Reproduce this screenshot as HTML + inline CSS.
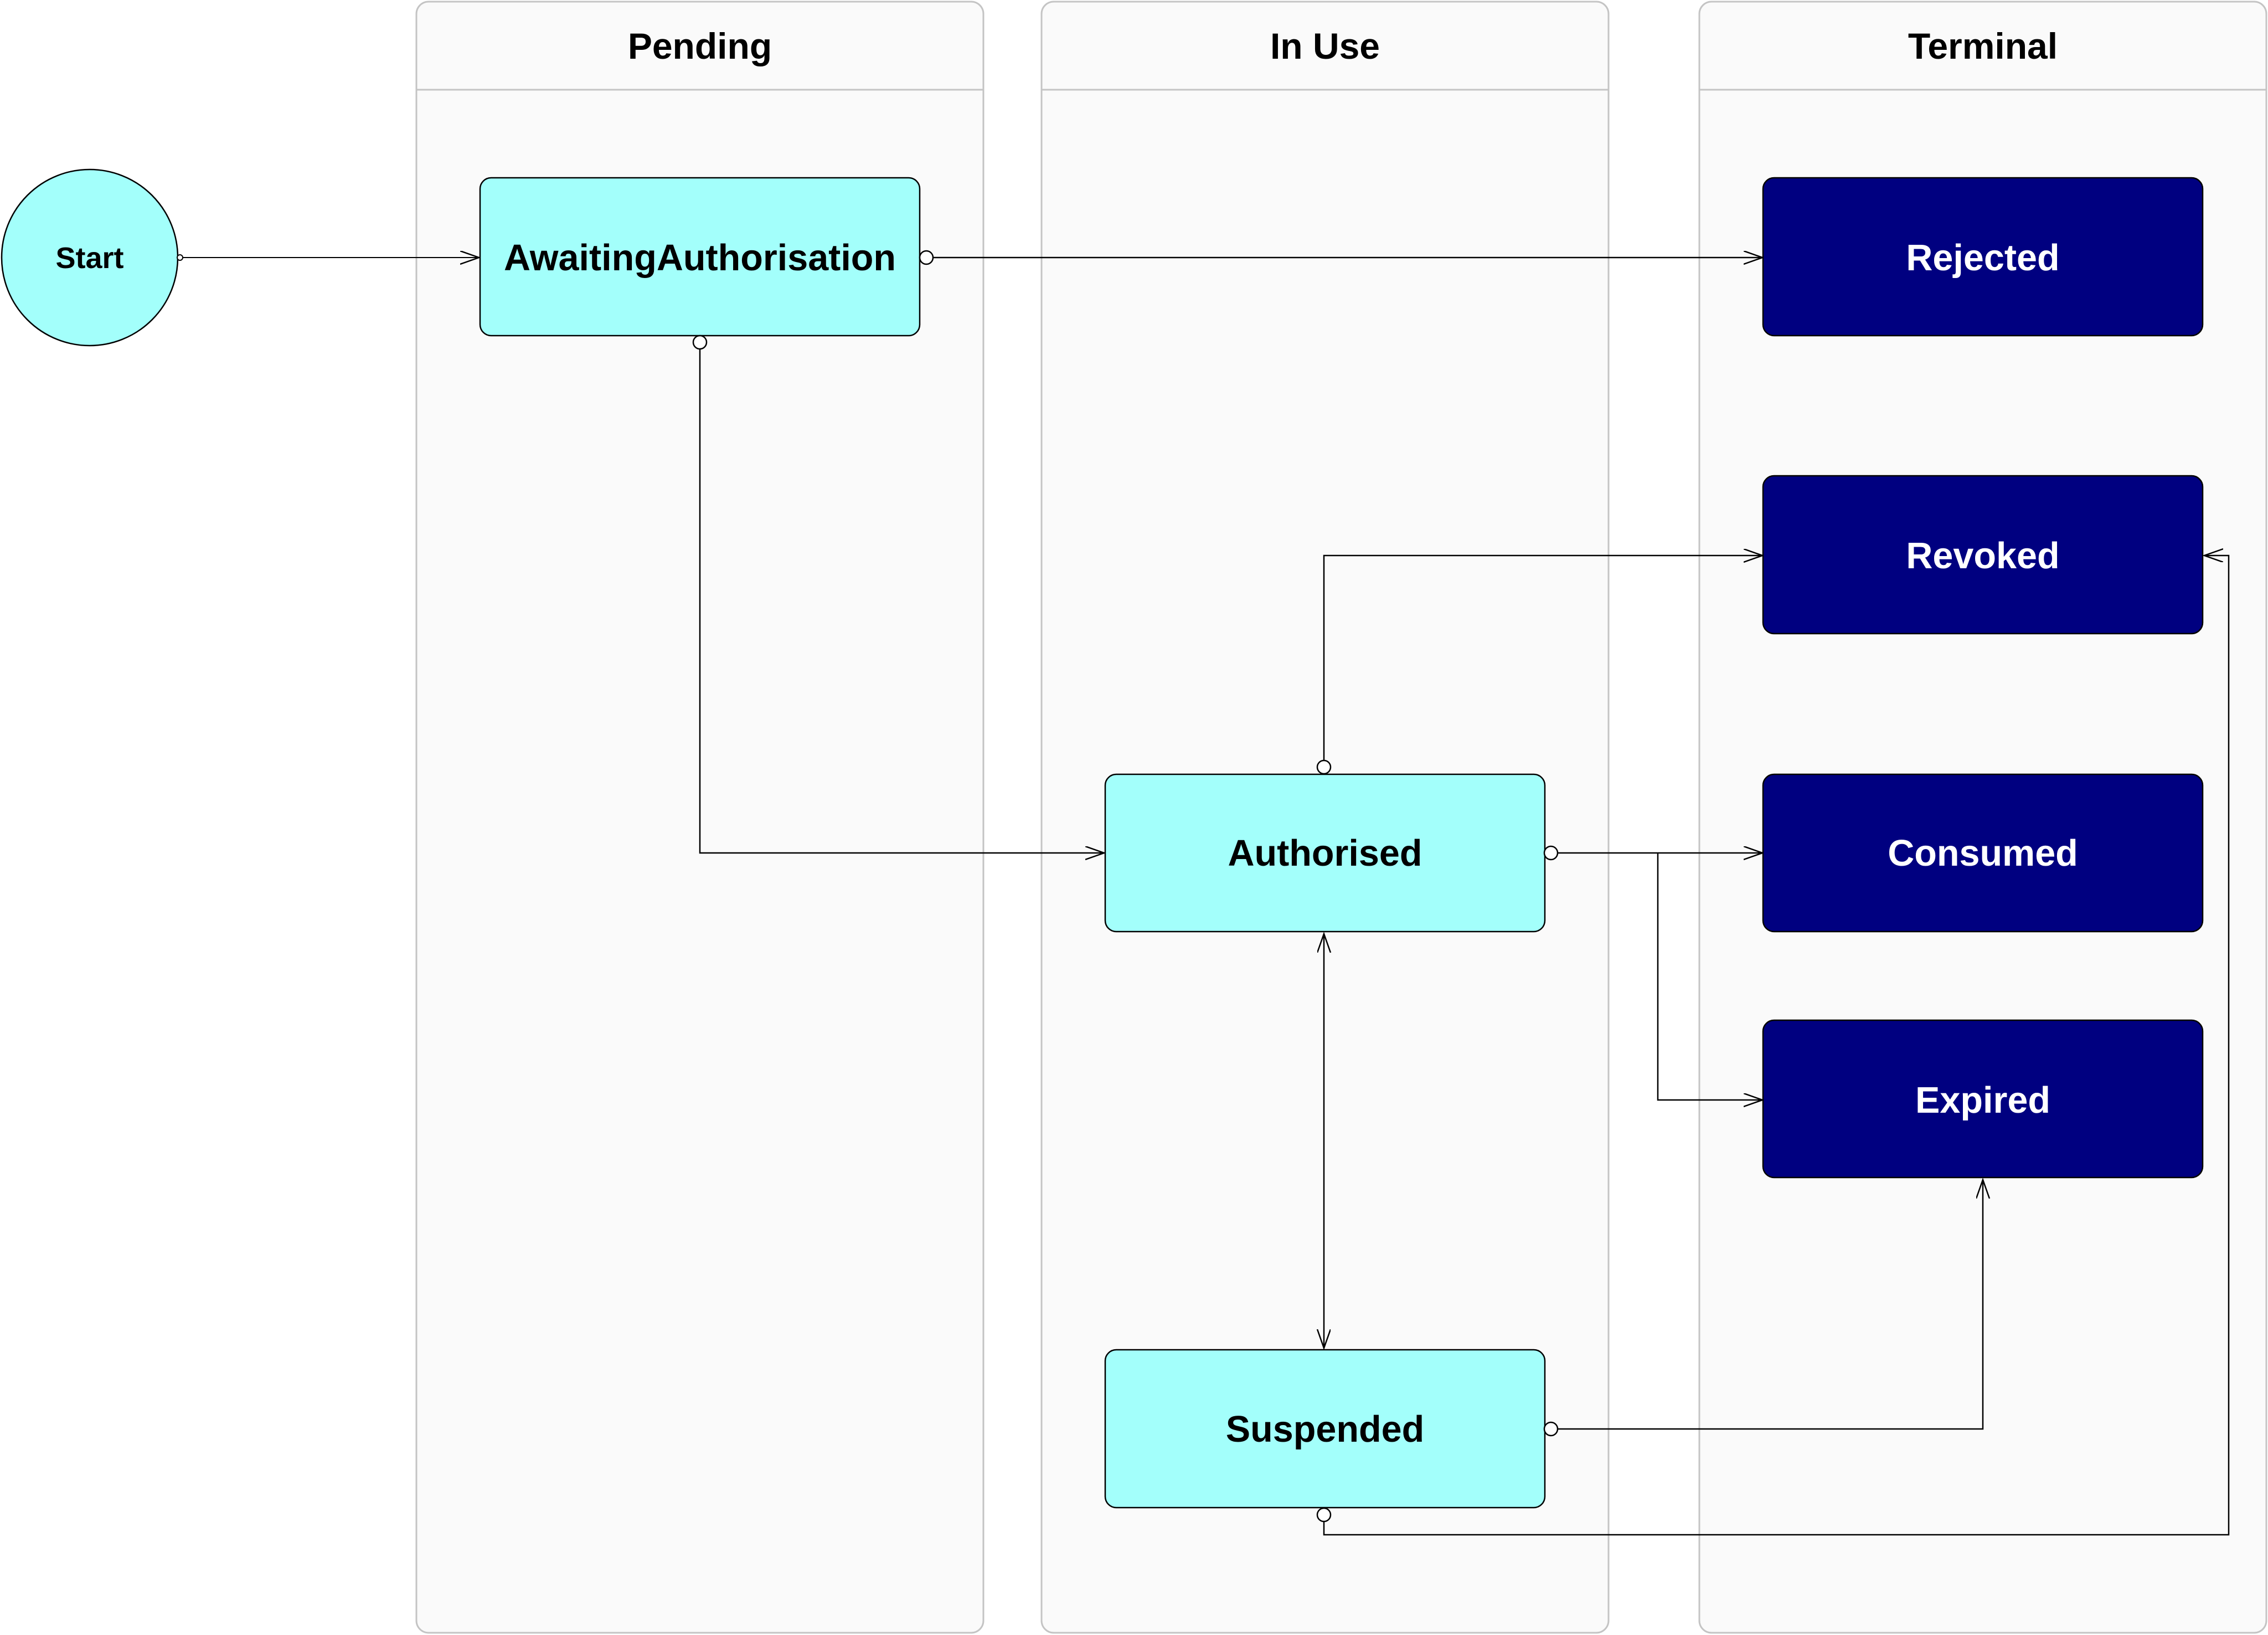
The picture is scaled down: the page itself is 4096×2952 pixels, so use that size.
<!DOCTYPE html>
<html><head><meta charset="utf-8"><style>
html,body{margin:0;padding:0;background:#fff;}
svg{display:block;}
text{font-family:"Liberation Sans",Arial,sans-serif;font-weight:bold;}
</style></head><body>
<svg width="4096" height="2952" viewBox="0 0 4096 2952" xmlns="http://www.w3.org/2000/svg">
<defs>
<marker id="ar" markerWidth="40" markerHeight="30" refX="34" refY="12" orient="auto" markerUnits="userSpaceOnUse">
<path d="M0,0 L34,12 L0,24" fill="none" stroke="#000" stroke-width="2.5"/>
</marker>
<marker id="ars" markerWidth="40" markerHeight="30" refX="34" refY="12" orient="auto-start-reverse" markerUnits="userSpaceOnUse">
<path d="M0,0 L34,12 L0,24" fill="none" stroke="#000" stroke-width="2.5"/>
</marker>
</defs>
<g fill="#fafafa" stroke="#c4c4c4" stroke-width="3">
<rect x="752" y="3" width="1024" height="2945" rx="22"/>
<rect x="1881" y="3" width="1024" height="2945" rx="22"/>
<rect x="3069" y="3" width="1024" height="2945" rx="22"/>
<path d="M752,162 H1776 M1881,162 H2905 M3069,162 H4093" fill="none"/>
</g>
<g font-size="66" text-anchor="middle" fill="#000">
<text x="1264" y="106">Pending</text>
<text x="2393" y="106">In Use</text>
<text x="3581" y="106">Terminal</text>
</g>
<g fill="none" stroke="#000" stroke-width="2.5">
<path d="M327,465 H865" marker-end="url(#ar)" stroke-width="2"/>
<path d="M1684,465 H3183" marker-end="url(#ar)"/>
<path d="M1264,630 V1540 H1994" marker-end="url(#ar)"/>
<path d="M2391,1374 V1003 H3183" marker-end="url(#ar)"/>
<path d="M2812,1540 H3183" marker-end="url(#ar)"/>
<path d="M2994,1540 V1986 H3183" marker-end="url(#ar)"/>
<path d="M2391,1686 V2434" marker-start="url(#ars)" marker-end="url(#ar)"/>
<path d="M2812,2580 H3581 V2130" marker-end="url(#ar)"/>
<path d="M2391,2746 V2771 H4025 V1003 H3981" marker-end="url(#ar)"/>
</g>
<circle cx="162" cy="465" r="159" fill="#a3fffb" stroke="#000" stroke-width="2.5"/>
<text x="162" y="484" font-size="54" text-anchor="middle">Start</text>
<circle cx="325" cy="465" r="5" fill="#fff" stroke="#000" stroke-width="2"/>
<g fill="#a3fffb" stroke="#000" stroke-width="2.5">
<rect x="867" y="321" width="794" height="285" rx="20"/>
<rect x="1996" y="1398" width="794" height="284" rx="20"/>
<rect x="1996" y="2437" width="794" height="285" rx="20"/>
</g>
<g fill="#000080" stroke="#000" stroke-width="2.5">
<rect x="3184" y="321" width="794" height="285" rx="20"/>
<rect x="3184" y="859" width="794" height="285" rx="20"/>
<rect x="3184" y="1398" width="794" height="284" rx="20"/>
<rect x="3184" y="1842" width="794" height="284" rx="20"/>
</g>
<g font-size="66.5" text-anchor="middle">
<text x="1264" y="488" fill="#000">AwaitingAuthorisation</text>
<text x="2393" y="1563" fill="#000">Authorised</text>
<text x="2393" y="2603" fill="#000">Suspended</text>
<text x="3581" y="488" fill="#fff">Rejected</text>
<text x="3581" y="1026" fill="#fff">Revoked</text>
<text x="3581" y="1563" fill="#fff">Consumed</text>
<text x="3581" y="2009" fill="#fff">Expired</text>
</g>
<g fill="#fff" stroke="#000" stroke-width="2.5">
<circle cx="1673" cy="465" r="12"/>
<circle cx="1264" cy="618" r="12"/>
<circle cx="2391" cy="1385" r="12"/>
<circle cx="2801" cy="1540" r="12"/>
<circle cx="2801" cy="2580" r="12"/>
<circle cx="2391" cy="2735" r="12"/>
</g>
</svg>
</body></html>
